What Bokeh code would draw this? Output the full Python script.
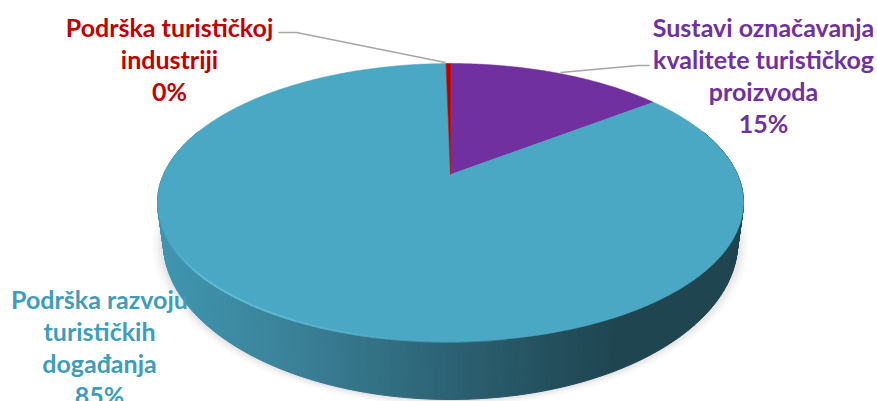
import numpy as np
from bokeh.plotting import figure
from bokeh.models import Range1d
from bokeh.core.properties import value
from bokeh.embed import file_html
from bokeh.resources import INLINE

categories = ["Sustavi označavanja\nkvalitete turističkog\nproizvoda",
              "Podrška razvoju\nturističkih\ndogađanja",
              "Podrška turističkoj\nindustriji"]
shares = [14.6, 85.1, 0.3]
colors = ["#7030a0", "#4aa8c4", "#c00000"]
label_colors = ["#7030a0", "#3d9dbb", "#c00000"]
label_centers = [(763, 26), (99, 298), (169, 26)]

FONT = "Lato"; SIZE = "25px"; LINE = 32
CX, CY, D, A, C = 450.0, 174.0, 287.0, -98.3, 0.2014
DEPTH = 37.0

def proj(t):
    """clockwise angle from 12 o'clock -> pixel on the tilted disc rim"""
    x, y = np.sin(t), np.cos(t)
    w = 1 + C * y
    return CX + D * x / w, (CY + A * y) / w

def proj_low(t):
    x, y = np.sin(t), np.cos(t)
    w = 1 + C * y
    return CX + 0.98 * D * x / w, (CY + A * y) / w + DEPTH / w**2

p = figure(width=877, height=401, x_range=Range1d(0, 877), y_range=Range1d(401, 0),
           output_backend="svg", toolbar_location=None, min_border=0,
           background_fill_color="white", border_fill_color="white")
p.axis.visible = False
p.grid.visible = False
p.outline_line_color = None

ts = np.linspace(0, 2 * np.pi, 721)

# soft shadow
lx, ly = proj_low(ts)
for s, a in zip([1.04, 1.032, 1.024, 1.017, 1.01, 1.004], [.025, .03, .04, .05, .06, .07]):
    p.patch(CX + (lx - CX) * s, 215 + (ly - 215) * s, fill_color="#808080",
            fill_alpha=a, line_color=None)

# gradient wall
stops_x = [150, 300, 440, 550, 620, 750]
stops_r = [0x41, 0x3a, 0x2d, 0x24, 0x1f, 0x1f]
stops_g = [0x97, 0x80, 0x64, 0x50, 0x45, 0x45]
stops_b = [0xb2, 0x97, 0x76, 0x5e, 0x50, 0x50]
wall = np.linspace(np.pi / 2 - 0.35, 3 * np.pi / 2 + 0.35, 241)
xs, ys, fills = [], [], []
for a, b in zip(wall[:-1], wall[1:]):
    x0, y0 = proj(a); x1, y1 = proj(b)
    x2, y2 = proj_low(b); x3, y3 = proj_low(a)
    xs.append([x0, x1, x2, x3]); ys.append([y0, y1, y2, y3])
    m = (x0 + x1) / 2
    fills.append("#%02x%02x%02x" % tuple(int(np.interp(m, stops_x, c))
                                         for c in (stops_r, stops_g, stops_b)))
p.patches(xs, ys, fill_color=fills, line_color=fills, line_width=1)

# top face wedges
start = 0.0
for share, col in zip(shares, colors):
    sweep = share / 100 * 2 * np.pi
    arc = np.linspace(start, start + sweep, max(3, int(share * 8)))
    ax, ay = proj(arc)
    p.patch(np.r_[CX, ax], np.r_[CY, ay], fill_color=col, line_color=col, line_width=0.5)
    start += sweep

# bevel highlight along the near rim, fading toward the dark side
bev = np.linspace(np.pi * 1.5, np.pi * 0.95, 80)
for a, b in zip(bev[:-1], bev[1:]):
    seg = np.linspace(a, b, 3)
    bx, by = proj(seg)
    f = np.clip((560 - bx.mean()) / 300, 0, 1) * np.clip((bx.mean() - 160) / 40, 0, 1)
    p.line(bx, by + 0.5, line_color="#62c0dc", line_alpha=float(f * 0.9), line_width=2)

# leader lines
p.line([278, 296, 445], [32, 32, 62], line_color="#a6a6a6", line_width=1.5)
p.line([560, 638, 649], [72, 65, 65], line_color="#a6a6a6", line_width=1.5)

# labels
for name, share, col, (lx0, ly0) in zip(categories, shares, label_colors, label_centers):
    lines = name.split("\n") + [f"{round(share / 5) * 5 if share > 1 else 0}%"]
    p.text([lx0] * len(lines), [ly0 + i * LINE for i in range(len(lines))], text=lines,
           text_color=col, text_font=value(FONT), text_font_style="bold",
           text_font_size=SIZE, text_align="center", text_baseline="middle")

open("out.html", "w").write(file_html(p, INLINE))
